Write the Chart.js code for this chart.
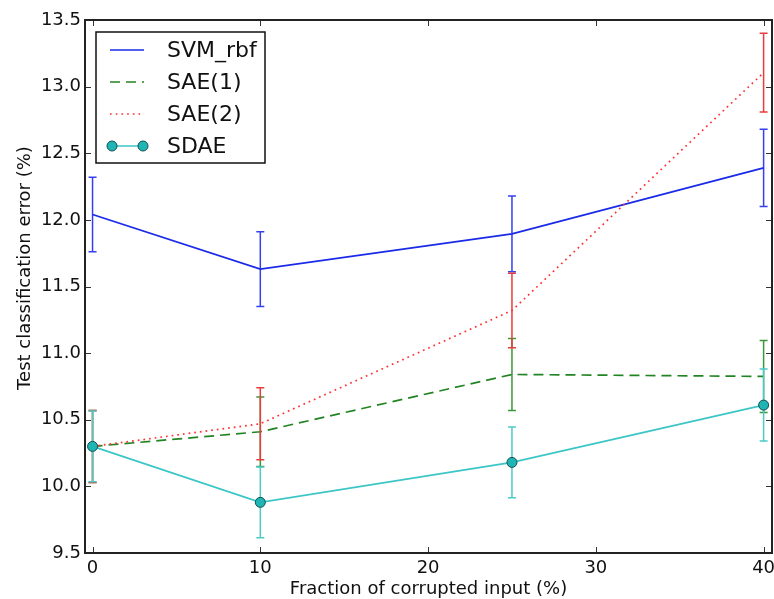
<!DOCTYPE html>
<html>
<head>
<meta charset="utf-8">
<script src="https://cdn.jsdelivr.net/npm/chart.js@4/dist/chart.umd.min.js"></script>
<style>
  html, body { margin: 0; padding: 0; background: #fff; }
  canvas { display: block; }
</style>
</head>
<body>
<canvas id="errChart" width="774" height="599"></canvas>
<script>
// corruption levels (%) and the test error (%) of each model, with error bar half-widths
const fractions = [0, 10, 25, 40];
const xTicks = [0, 10, 20, 30, 40];
const yTicks = [9.5, 10.0, 10.5, 11.0, 11.5, 12.0, 12.5, 13.0, 13.5];

const svmRbf = [12.04, 11.63, 11.895, 12.39];
const svmRbfErr = [0.28, 0.28, 0.285, 0.29];
const sae1 = [10.30, 10.41, 10.84, 10.825];
const sae1Err = [0.27, 0.26, 0.27, 0.27];
const sae2 = [10.30, 10.47, 11.32, 13.105];
const sae2Err = [0.27, 0.27, 0.28, 0.295];
const sdae = [10.30, 9.88, 10.18, 10.61];
const sdaeErr = [0.265, 0.265, 0.265, 0.27];

const FONT = "DejaVu Sans";
const points = vals => fractions.map((x, i) => ({x: x, y: vals[i]}));

// vertical error bars with small caps, drawn just under each series
const errorBars = {
    id: "errorBars",
    beforeDatasetDraw(chart, args) {
        const ds = chart.data.datasets[args.index];
        const yScale = chart.scales.y;
        const ctx = chart.ctx;
        ctx.save();
        ctx.strokeStyle = ds.barColor;
        ctx.lineWidth = 1.5;
        ctx.setLineDash([]);
        args.meta.data.forEach((pt, i) => {
            const v = ds.data[i].y;
            const top = yScale.getPixelForValue(v + ds.errors[i]);
            const bot = yScale.getPixelForValue(v - ds.errors[i]);
            ctx.beginPath();
            ctx.moveTo(pt.x, top);
            ctx.lineTo(pt.x, bot);
            ctx.moveTo(pt.x - 4, top);
            ctx.lineTo(pt.x + 4, top);
            ctx.moveTo(pt.x - 4, bot);
            ctx.lineTo(pt.x + 4, bot);
            ctx.stroke();
        });
        ctx.restore();
    }
};

// box frame, inward ticks, legend box and y title
const frame = {
    id: "frame",
    afterDraw(chart) {
        const {ctx, chartArea: a, scales} = chart;
        ctx.save();
        ctx.strokeStyle = "#333";
        ctx.lineWidth = 1;
        ctx.beginPath();
        xTicks.forEach(v => {
            const px = Math.round(scales.x.getPixelForValue(v)) + 0.5;
            ctx.moveTo(px, a.bottom); ctx.lineTo(px, a.bottom - 6);
            ctx.moveTo(px, a.top); ctx.lineTo(px, a.top + 6);
        });
        yTicks.forEach(v => {
            const py = Math.round(scales.y.getPixelForValue(v)) + 0.5;
            ctx.moveTo(a.left, py); ctx.lineTo(a.left + 6, py);
            ctx.moveTo(a.right, py); ctx.lineTo(a.right - 6, py);
        });
        ctx.stroke();

        ctx.strokeStyle = "#222";
        ctx.lineWidth = 2;
        ctx.strokeRect(a.left, a.top, a.right - a.left, a.bottom - a.top);

        // legend
        ctx.fillStyle = "#fff";
        ctx.fillRect(96, 32, 169, 131);
        ctx.strokeStyle = "#111";
        ctx.lineWidth = 1.5;
        ctx.strokeRect(96, 32, 169, 131);
        ctx.font = "22px '" + FONT + "'";
        ctx.textBaseline = "middle";
        ctx.textAlign = "left";
        chart.data.datasets.forEach((ds, i) => {
            const y = 50 + i * 32;
            ctx.strokeStyle = ds.borderColor;
            ctx.lineWidth = ds.borderWidth;
            ctx.setLineDash(ds.borderDash || []);
            ctx.beginPath();
            ctx.moveTo(110, y);
            ctx.lineTo(144, y);
            ctx.stroke();
            ctx.setLineDash([]);
            if (ds.pointRadius > 0) {
                [112, 143].forEach(cx => {
                    ctx.beginPath();
                    ctx.arc(cx, y, ds.pointRadius, 0, Math.PI * 2);
                    ctx.fillStyle = ds.pointBackgroundColor;
                    ctx.fill();
                    ctx.strokeStyle = ds.pointBorderColor;
                    ctx.lineWidth = 1;
                    ctx.stroke();
                });
            }
            ctx.fillStyle = "#111";
            ctx.fillText(ds.label, 167, y + 1);
        });

        // y axis title
        ctx.translate(25, 268);
        ctx.rotate(-Math.PI / 2);
        ctx.textAlign = "center";
        ctx.font = "18px '" + FONT + "'";
        ctx.fillStyle = "#111";
        ctx.fillText("Test classification error (%)", 0, 0);
        ctx.restore();
    }
};

new Chart(document.getElementById("errChart").getContext("2d"), {
    type: "line",
    data: {
        datasets: [
            {
                label: "SVM_rbf",
                data: points(svmRbf),
                errors: svmRbfErr,
                borderColor: "#1a2ae8",
                barColor: "#3440ee",
                borderWidth: 1.7,
                pointRadius: 0,
                order: 3
            },
            {
                label: "SAE(1)",
                data: points(sae1),
                errors: sae1Err,
                borderColor: "#228422",
                barColor: "#3c963c",
                borderWidth: 1.7,
                borderDash: [10, 6],
                pointRadius: 0,
                order: 2
            },
            {
                label: "SAE(2)",
                data: points(sae2),
                errors: sae2Err,
                borderColor: "#ff3030",
                barColor: "#ea3c3c",
                borderWidth: 1.7,
                borderDash: [1.7, 4],
                pointRadius: 0,
                order: 1
            },
            {
                label: "SDAE",
                data: points(sdae),
                errors: sdaeErr,
                borderColor: "#3cc6c6",
                barColor: "#4ccaca",
                borderWidth: 1.7,
                pointRadius: 5,
                pointBackgroundColor: "#1fb5b5",
                pointBorderColor: "#124f4f",
                pointBorderWidth: 1,
                order: 0
            }
        ]
    },
    options: {
        responsive: false,
        animation: false,
        devicePixelRatio: 1,
        layout: {autoPadding: false, padding: {top: 20, right: 2, left: 0, bottom: 0}},
        elements: {line: {tension: 0, fill: false}},
        plugins: {
            legend: {display: false},
            tooltip: {enabled: false}
        },
        scales: {
            x: {
                type: "linear",
                min: -0.45,
                max: 40.5,
                afterBuildTicks: s => { s.ticks = xTicks.map(v => ({value: v})); },
                afterFit: s => {
                    s.height = 46;
                    s.paddingLeft = 0;
                    s.paddingRight = 0;
                },
                grid: {display: false, drawTicks: false},
                border: {display: false},
                ticks: {
                    padding: 5,
                    color: "#111",
                    font: {family: FONT, size: 18},
                    maxRotation: 0,
                    callback: v => String(v)
                },
                title: {
                    display: true,
                    text: "Fraction of corrupted input (%)",
                    color: "#111",
                    font: {family: FONT, size: 18, lineHeight: 1},
                    padding: {top: 0, bottom: 1}
                }
            },
            y: {
                min: 9.5,
                max: 13.5,
                afterBuildTicks: s => { s.ticks = yTicks.map(v => ({value: v})); },
                afterFit: s => {
                    s.width = 85;
                    s.paddingTop = 0;
                    s.paddingBottom = 0;
                },
                grid: {display: false, drawTicks: false},
                border: {display: false},
                ticks: {
                    padding: 4,
                    color: "#111",
                    font: {family: FONT, size: 18},
                    callback: v => v.toFixed(1)
                }
            }
        }
    },
    plugins: [errorBars, frame]
});
</script>
</body>
</html>
